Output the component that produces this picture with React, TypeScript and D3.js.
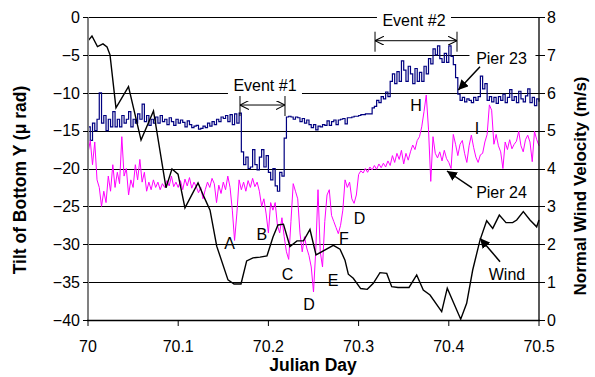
import * as d3 from 'd3'

// Wind (secondary axis, m/s)
const windDays = [
  70.0, 70.0044, 70.0105, 70.0166, 70.0211, 70.0244, 70.031, 70.0449, 70.0588, 70.0726,
  70.0865, 70.0931, 70.0998, 70.1075, 70.122, 70.1286, 70.1353, 70.1427, 70.1552, 70.1619,
  70.1696, 70.1759, 70.1829, 70.1907, 70.1984, 70.2051, 70.2106, 70.2167, 70.2239, 70.2317,
  70.2389, 70.2461, 70.2528, 70.272, 70.2794, 70.2849, 70.2886, 70.2941, 70.3023, 70.3096,
  70.3163, 70.3237, 70.3312, 70.3367, 70.3437, 70.3559, 70.3644, 70.3717, 70.3792, 70.3921,
  70.3983, 70.4132, 70.4198, 70.4265, 70.4346, 70.442, 70.4487, 70.456, 70.4634, 70.4708,
  70.4753, 70.4826, 70.49, 70.4974, 70.5,
]
const windSpeed = [
  7.37, 7.5, 7.22, 7.29, 7.21, 7.0, 5.6, 6.16, 4.75, 5.52,
  3.49, 3.99, 3.85, 2.96, 3.62, 3.25, 2.9, 1.95, 1.06, 0.95,
  0.95, 1.56, 1.64, 1.66, 1.69, 2.19, 2.51, 2.53, 1.94, 2.09,
  2.09, 2.39, 1.72, 1.97, 1.87, 1.58, 1.21, 1.1, 0.83, 0.81,
  0.97, 1.25, 1.23, 0.88, 0.86, 0.86, 1.19, 0.79, 0.66, 0.22,
  0.84, 0.02, 0.44, 1.32, 2.11, 2.62, 2.42, 2.77, 2.57, 2.57,
  2.64, 2.86, 2.64, 2.46, 2.64,
]

// tilt samples, one every 0.0025 day from 70.0
const sampleStart = 70
const sampleStep = 0.0025
const pier23 = [
  -14.5, -16.3, -14, -15, -13.5, -10, -14, -13, -15, -13.5,
  -14.5, -12.5, -14.5, -13.5, -14.5, -13, -14, -13.5, -12.5, -14.5,
  -13.5, -14, -12.8, -13.5, -11.5, -13.8, -13, -14.3, -13.5, -14,
  -13.2, -14, -13, -13.8, -13.5, -14.2, -13.3, -13.8, -14.3, -13.5,
  -14, -13.6, -13.9, -14.5, -13.7, -14.2, -14.6, -14.4, -14.3, -14.8,
  -14.7, -14.4, -14.6, -14, -14.4, -13.8, -14.2, -13.5, -13.8, -13.2,
  -13.4, -13, -13.8, -12.9, -14.2, -12.8, -14, -12.7, -17.8, -19.5,
  -18.5, -20, -19.8, -17.5, -19.5, -20.2, -18.5, -17.5, -19.8, -18.3,
  -20.5, -21.5, -20, -22.3, -23, -20.5, -21, -16, -13.2, -13.1,
  -13.2, -13.5, -13.2, -13.3, -13.8, -13.4, -14, -13.6, -14.2, -14.6,
  -14.2, -14.9, -14.4, -14.5, -14.2, -14.3, -13.7, -14.3, -13.8, -13.6,
  -14.2, -13.6, -13.5, -13.4, -14.1, -13.3, -13.3, -13.2, -13.1, -13.1,
  -13, -12.9, -12.9, -12.8, -12.8, -12.8, -12, -11.8, -11, -11.3,
  -10.5, -10.8, -9.9, -10.5, -8.5, -7.5, -8.8, -7.2, -8.5, -5.8,
  -7, -8.5, -6.5, -7.5, -8.8, -6.8, -8.5, -7.3, -8.5, -6.5,
  -7.5, -5.5, -6.2, -4.2, -5, -3.8, -5.5, -6, -4.8, -6,
  -3.8, -5.2, -6.3, -8, -10.2, -11, -10.6, -11.2, -10.8, -11,
  -11.3, -10.6, -11, -10.5, -7.8, -9.5, -8.8, -11, -10.5, -11.2,
  -10.6, -11.4, -10.5, -11, -10.2, -11.3, -10.6, -9.6, -11, -10.5,
  -11.3, -9.8, -10.8, -11.2, -10.4, -9.5, -11.3, -10.6, -11.7, -10.8,
  -11.2,
]
const pier24 = [
  -18, -16.3, -19.5, -16.5, -21.5, -22.5, -25, -23, -24.5, -21,
  -23, -19.5, -22.5, -20.5, -22, -15.8, -21, -20, -23.5, -21.5,
  -22.5, -19.5, -21.5, -18.8, -21.8, -20.5, -23, -21.8, -22.8, -21.5,
  -22.5, -21.8, -22.8, -22, -22.5, -21.6, -22.3, -21, -22.4, -21.8,
  -22.5, -21.6, -22.8, -21.4, -22.3, -21.2, -22.6, -21.8, -22.4, -23.2,
  -22.5, -24, -22.8, -21.8, -22.5, -21.3, -22, -24.5, -22.2, -23.3,
  -21.8, -22.8, -21, -22.5, -25.5, -29.5, -26, -21.5, -22.8, -21.8,
  -23, -21.6, -22.5, -21.3, -22.4, -21.8, -23, -25, -24, -26,
  -28.5, -24.5, -25.5, -24.5, -27.5, -28.5, -26.5, -29, -31, -32,
  -27, -22, -23, -24, -28.5, -31, -29, -30.5, -31.5, -33,
  -36.3, -30.8, -22.8, -31, -33, -27, -23.5, -22.8, -26.2, -27,
  -27.8, -28.6, -27.5, -25.5, -21.5, -22.5, -21.8, -24, -24.6, -23.5,
  -20.8, -20.3, -20.6, -20, -20.5, -19.8, -20.2, -19.6, -20.1, -19.4,
  -19.9, -19.3, -19.8, -19, -19.6, -18.3, -19.2, -18, -18.8, -17.6,
  -19.4, -18, -18.9, -17.8, -16.9, -17.5, -16.3, -15.8, -14.5, -12.5,
  -10.3, -14.8, -21.7, -15.8, -18, -18.6, -17.8, -19, -17.6, -18.7,
  -19.2, -20, -15.5, -16.8, -18.3, -16.8, -16.3, -18, -19.2, -17,
  -15.6, -17.2, -18.5, -19.2, -18.2, -18, -16.5, -15.5, -11.6, -12.3,
  -16.8, -15.5, -17, -17.8, -20, -16.5, -17.5, -16.2, -17.4, -16.8,
  -16.4, -15.1, -17, -17.8, -16.2, -15.6, -16.5, -19.1, -15.1, -16.2,
  -17,
]

const dayTicks = [70, 70.1, 70.2, 70.3, 70.4, 70.5]
const tiltTicks = [0, -5, -10, -15, -20, -25, -30, -35, -40]
const windTicks = [0, 1, 2, 3, 4, 5, 6, 7, 8]

// letters near the curves: [text, day, tilt]
const letters: [string, number, number][] = [
  ['A', 70.1569, -29.83],
  ['B', 70.1926, -28.65],
  ['C', 70.2212, -33.99],
  ['D', 70.245, -37.89],
  ['E', 70.2716, -34.78],
  ['F', 70.2838, -29.24],
  ['D', 70.301, -26.53],
  ['H', 70.3636, -11.62],
  ['I', 70.4313, -14.65],
]

const W = 595
const H = 377
const FONT = '"Liberation Sans", Arial, sans-serif'

export default function App() {
  const x = d3.scaleLinear().domain([70, 70.5]).range([88, 539])
  const yL = d3.scaleLinear().domain([-40, 0]).range([320, 17])
  const yR = d3.scaleLinear().domain([0, 8]).range([320, 17])

  const sampleDay = (i: number) => sampleStart + i * sampleStep

  const stepLine = d3
    .line<number>()
    .x((_, i) => x(sampleDay(i)))
    .y((d) => yL(d))
    .curve(d3.curveStepAfter)
  const tiltLine = d3
    .line<number>()
    .x((_, i) => x(sampleDay(i)))
    .y((d) => yL(d))
  const windLine = d3
    .line<number>()
    .x((_, i) => x(windDays[i]))
    .y((d) => yR(d))

  const fmt = (v: number) => String(v).replace('-', '\u2212')

  // event span arrows: [label, from, to, tilt at arrow, label day, label tilt]
  const events: [string, number, number, number, number, number][] = [
    ['Event #1', 70.1685, 70.2184, -11.62, 70.1962, -8.98],
    ['Event #2', 70.3182, 70.4091, -3.13, 70.3614, -0.46],
  ]

  return (
    <svg
      width={W}
      height={H}
      style={{ position: 'absolute', left: 0, top: 0, background: '#fff' }}
      fontFamily={FONT}
    >
      <defs>
        <marker id="open" viewBox="0 0 10 10" refX="10" refY="5" markerWidth="9" markerHeight="9" orient="auto-start-reverse" markerUnits="userSpaceOnUse">
          <path d="M0,0 L10,5 L0,10" fill="none" stroke="#000" strokeWidth="1.2" />
        </marker>
        <marker id="solid" viewBox="0 0 10 10" refX="10" refY="5" markerWidth="10" markerHeight="10" orient="auto" markerUnits="userSpaceOnUse">
          <path d="M0,0 L10,5 L0,10 z" fill="#000" />
        </marker>
      </defs>

      {/* grid */}
      {tiltTicks.map((t) => (
        <line key={'g' + t} x1={x(70)} x2={x(70.5)} y1={Math.round(yL(t)) + 0.5} y2={Math.round(yL(t)) + 0.5} stroke="#000" strokeWidth={1} />
      ))}

      {/* series */}
      <path d={stepLine(pier23) || ''} fill="none" stroke="#000080" strokeWidth={1.2} />
      <path d={tiltLine(pier24) || ''} fill="none" stroke="#ff00ff" strokeWidth={1} />
      <path d={windLine(windSpeed) || ''} fill="none" stroke="#000" strokeWidth={1.4} />

      {/* axes */}
      <line x1={88} x2={88} y1={17} y2={321} stroke="#808080" strokeWidth={2} />
      <line x1={87} x2={540} y1={320.5} y2={320.5} stroke="#000" strokeWidth={1.3} />
      <line x1={539} x2={539} y1={17} y2={321} stroke="#000" strokeWidth={1.3} />
      {tiltTicks.map((t) => (
        <g key={'l' + t}>
          <line x1={83} x2={88} y1={Math.round(yL(t)) + 0.5} y2={Math.round(yL(t)) + 0.5} stroke="#000" />
          <text x={80} y={yL(t)} dy="0.36em" textAnchor="end" fontSize={16}>{fmt(t)}</text>
        </g>
      ))}
      {windTicks.map((t) => (
        <g key={'r' + t}>
          <line x1={539} x2={545} y1={Math.round(yR(t)) + 0.5} y2={Math.round(yR(t)) + 0.5} stroke="#000" />
          <text x={547} y={yR(t)} dy="0.36em" fontSize={16}>{t}</text>
        </g>
      ))}
      {dayTicks.map((t) => (
        <g key={'b' + t}>
          <line x1={x(t)} x2={x(t)} y1={320} y2={326} stroke="#000" />
          <text x={x(t)} y={352} textAnchor="middle" fontSize={16}>{t}</text>
        </g>
      ))}

      {/* axis titles */}
      <text x={313} y={371} textAnchor="middle" fontSize={17.5} fontWeight="bold">Julian Day</text>
      <text transform="translate(26,180) rotate(-90)" textAnchor="middle" fontSize={17.5} fontWeight="bold">Tilt of Bottom Y (μ rad)</text>
      <text transform="translate(586,186) rotate(-90)" textAnchor="middle" fontSize={17} fontWeight="bold">Normal Wind Velocity (m/s)</text>

      {/* events */}
      {events.map(([label, a, b, t, ld, lt]) => (
        <g key={label}>
          <rect x={x(ld) - 37} y={yL(lt) - 11} width={74} height={22} fill="#fff" />
          <text x={x(ld)} y={yL(lt)} dy="0.36em" textAnchor="middle" fontSize={16}>{label}</text>
          <line x1={x(a)} x2={x(a)} y1={yL(t) - 9} y2={yL(t) + 11} stroke="#000" />
          <line x1={x(b)} x2={x(b)} y1={yL(t) - 9} y2={yL(t) + 11} stroke="#000" />
          <line x1={x(a)} x2={x(b)} y1={yL(t)} y2={yL(t)} stroke="#000" markerStart="url(#open)" markerEnd="url(#open)" />
        </g>
      ))}

      {/* series call-outs */}
      <rect x={x(70.4584) - 32} y={yL(-5.48) - 10} width={66} height={20} fill="#fff" />
      <text x={x(70.4584)} y={yL(-5.48)} dy="0.36em" textAnchor="middle" fontSize={16}>Pier 23</text>
      <line x1={x(70.4346)} y1={yL(-6.56)} x2={x(70.4105)} y2={yL(-9.64)} stroke="#000" strokeWidth={1.5} markerEnd="url(#solid)" />
      <text x={x(70.4584)} y={yL(-23.17)} dy="0.36em" textAnchor="middle" fontSize={16}>Pier 24</text>
      <line x1={x(70.4257)} y1={yL(-22.57)} x2={x(70.398)} y2={yL(-20.33)} stroke="#000" strokeWidth={1.5} markerEnd="url(#solid)" />
      <text x={x(70.4645)} y={yR(1.21)} dy="0.36em" textAnchor="middle" fontSize={16}>Wind</text>
      <line x1={x(70.4568)} y1={yR(1.54)} x2={x(70.4346)} y2={yR(2.16)} stroke="#000" strokeWidth={1.5} markerEnd="url(#solid)" />

      {letters.map(([s, d, t], i) => (
        <text key={i} x={x(d)} y={yL(t)} dy="0.36em" textAnchor="middle" fontSize={16}>{s}</text>
      ))}
    </svg>
  )
}
